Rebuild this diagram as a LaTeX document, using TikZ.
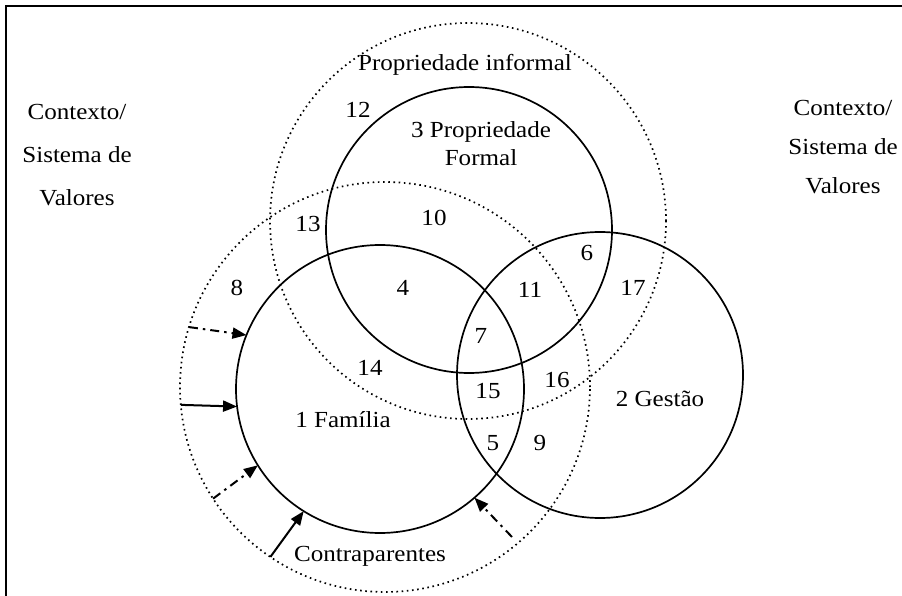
\documentclass[tikz,border=0pt]{standalone}
\usepackage{fontspec}
\setmainfont{Liberation Serif}[FakeStretch=1.09]
\usetikzlibrary{arrows.meta}
\begin{document}
\begin{tikzpicture}[x=1pt,y=-1pt,
  ring/.style={circle,draw,line width=1.7pt,inner sep=0pt,outer sep=0pt,minimum size=#1},
  dotring/.style={circle,draw,line width=1.7pt,dash pattern=on 1.6pt off 3.6pt,inner sep=0pt,outer sep=0pt,minimum size=#1},
  lbl/.style={inner sep=0pt,font=\fontsize{23}{28}\selectfont},
  solidarr/.style={-{Triangle[length=14pt,width=11pt]},line width=2pt},
  dasharr/.style={solidarr,dash pattern=on 9pt off 5pt on 2.5pt off 5pt}]
\useasboundingbox (0,0) rectangle (902,596);
% frame
\draw[line width=2.6pt] (6,596) -- (6,6) -- (902,6);
% circles
\node[dotring=396pt] (inf) at (468,221) {};
\node[dotring=410pt] (cp) at (385,387) {};
\node[ring=286pt] (form) at (469,230) {};
\node[ring=288pt] (fam) at (380,389) {};
\node[ring=286pt] (gest) at (600,375) {};
% labels
\node[lbl] (tinf) at (465,65) {Propriedade informal};
\node[lbl,align=center] (tform) at (481,144) {3 Propriedade\\Formal};
\node[lbl] (tfam) at (343,420) {1 Família};
\node[lbl] (tgest) at (660,399) {2 Gestão};
\node[lbl] (tcp) at (370,556) {Contraparentes};
\node[lbl,align=center,font=\fontsize{23}{43}\selectfont] (ctxl) at (77,155) {Contexto/\\Sistema de\\Valores};
\node[lbl,align=center,font=\fontsize{23}{39}\selectfont] (ctxr) at (843,147) {Contexto/\\Sistema de\\Valores};
\node[lbl] (n4) at (403,288) {4};
\node[lbl] (n5) at (493,443) {5};
\node[lbl] (n6) at (587,253) {6};
\node[lbl] (n7) at (481,336) {7};
\node[lbl] (n8) at (237,288) {8};
\node[lbl] (n9) at (540,443) {9};
\node[lbl] (n10) at (434,218) {10};
\node[lbl] (n11) at (530,290) {11};
\node[lbl] (n12) at (358,110) {12};
\node[lbl] (n13) at (308,224) {13};
\node[lbl] (n14) at (370,368) {14};
\node[lbl] (n15) at (488,391) {15};
\node[lbl] (n16) at (557,380) {16};
\node[lbl] (n17) at (633,288) {17};
% arrows
\coordinate (a5) at (512,537);
\draw[dasharr] (cp.163) -- (fam.158);
\draw[solidarr] (cp.185) -- (fam.187);
\draw[dasharr] (cp.213) -- (fam.212);
\draw[solidarr] (cp.236) -- (fam.238);
\draw[dasharr] (a5) -- (fam.311);
\end{tikzpicture}
\end{document}
